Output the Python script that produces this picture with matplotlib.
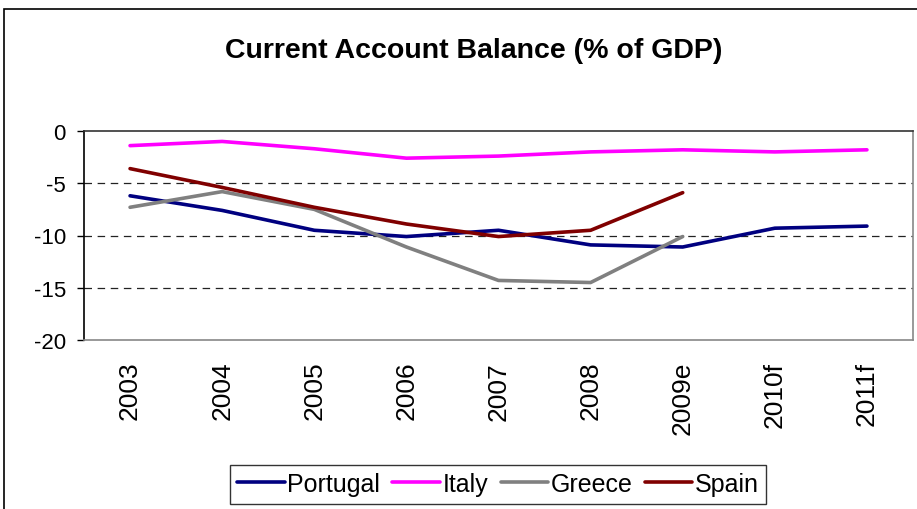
import matplotlib.pyplot as plt
from matplotlib.patches import Rectangle

plt.rcParams['font.family'] = ['Liberation Sans', 'DejaVu Sans']

# Current account balance, % of GDP (e = estimate, f = forecast)
years = ['2003', '2004', '2005', '2006', '2007', '2008', '2009e', '2010f', '2011f']
portugal = [-6.2, -7.6, -9.5, -10.1, -9.5, -10.9, -11.1, -9.3, -9.1]
italy = [-1.4, -1.0, -1.7, -2.6, -2.4, -2.0, -1.8, -2.0, -1.8]
greece = [-7.3, -5.8, -7.5, -11.1, -14.3, -14.5, -10.1]
spain = [-3.6, -5.4, -7.3, -8.9, -10.1, -9.5, -5.9]

fig = plt.figure(figsize=(9.17, 5.10), dpi=100)

# chart frame (runs off the right and bottom edges)
fig.patches.append(Rectangle((4/917, -0.1), 1.2, 1 - 10/510 + 0.1,
                             transform=fig.transFigure, fill=False,
                             edgecolor='black', linewidth=1.2))

ax = fig.add_axes([84/917, (510-341)/510, (913-84)/917, (341-132)/510])

x = range(len(years))
ax.plot(x, portugal, color='#000080', lw=2.6, label='Portugal', solid_capstyle='round')
ax.plot(x, italy, color='#FF00FF', lw=2.6, label='Italy', solid_capstyle='round')
ax.plot(range(len(greece)), greece, color='#808080', lw=2.6, label='Greece', solid_capstyle='round')
ax.plot(range(len(spain)), spain, color='#800000', lw=2.6, label='Spain', solid_capstyle='round')

ax.set_xlim(-0.5, len(years) - 0.5)
ax.set_ylim(-20, 0)
ax.set_yticks([0, -5, -10, -15, -20])
ax.set_yticklabels(['0', '-5', '-10', '-15', '-20'], fontsize=16)
ax.set_xticks(list(x))
ax.set_xticklabels(years, rotation=90, fontsize=19, va='top')
ax.tick_params(axis='x', length=0, pad=15)
ax.tick_params(axis='y', length=5, width=1, pad=8, direction='out')

for gy in [-5, -10, -15]:
    ax.axhline(gy, color='#222222', lw=0.9, ls=(0, (6, 4.5)), zorder=0)

ax.spines['left'].set_color('black')
ax.spines['top'].set_color('#333333')
ax.spines['right'].set_color('#888888')
ax.spines['bottom'].set_color('#888888')
for s in ax.spines.values():
    s.set_linewidth(1.2)

fig.text(474/917, 1 - 51/510, 'Current Account Balance (% of GDP)',
         ha='center', va='center', fontsize=20.5, fontweight='bold')

leg = fig.legend(loc='center', bbox_to_anchor=(498/917, 1 - 485/510), ncol=4,
                 fontsize=18, frameon=True, fancybox=False, handlelength=1.9,
                 handletextpad=0.1, columnspacing=0.5, borderpad=0.3,
                 borderaxespad=0)
leg.get_frame().set_edgecolor('black')
leg.get_frame().set_linewidth(1.0)

plt.savefig('out.png', dpi=100)
